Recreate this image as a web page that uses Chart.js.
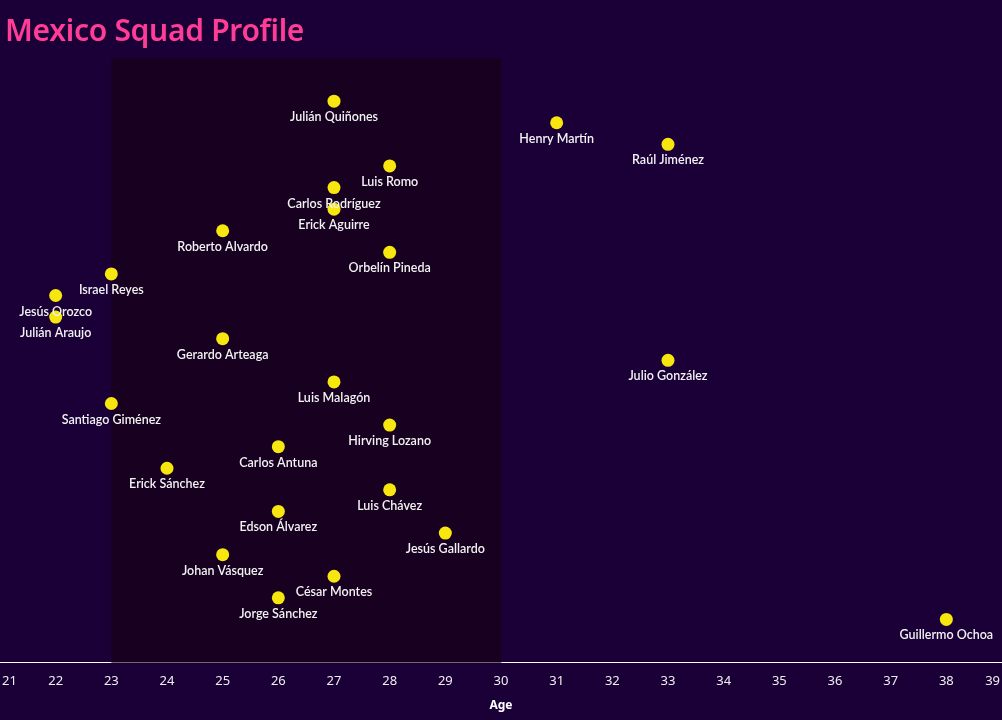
<!DOCTYPE html>
<html>
<head>
<meta charset="utf-8">
<script src="https://cdn.jsdelivr.net/npm/chart.js@4.4.1/dist/chart.umd.min.js"></script>
<style>
  html, body { margin: 0; padding: 0; background: #1b0038; }
  #wrap { position: relative; width: 1002px; height: 720px; }
  #title {
    position: absolute; left: 5px; top: 9px;
    font: 600 30px "Noto Sans", sans-serif; color: #ff3d96; letter-spacing: -0.3px;
  }
  canvas { display: block; }
</style>
</head>
<body>
<div id="wrap">
  <div id="title">Mexico Squad Profile</div>
  <canvas id="squad" width="1002" height="720"></canvas>
</div>
<script>
// players listed top to bottom, with their ages
const players = [
  'Julián Quiñones', 'Henry Martín', 'Raúl Jiménez', 'Luis Romo', 'Carlos Rodríguez',
  'Erick Aguirre', 'Roberto Alvardo', 'Orbelín Pineda', 'Israel Reyes', 'Jesús Orozco',
  'Julián Araujo', 'Gerardo Arteaga', 'Julio González', 'Luis Malagón', 'Santiago Giménez',
  'Hirving Lozano', 'Carlos Antuna', 'Erick Sánchez', 'Luis Chávez', 'Edson Álvarez',
  'Jesús Gallardo', 'Johan Vásquez', 'César Montes', 'Jorge Sánchez', 'Guillermo Ochoa'
];
const ages = [27, 31, 33, 28, 27, 27, 25, 28, 23, 22, 22, 25, 33, 27, 23, 28, 26, 24, 28, 26, 29, 25, 27, 26, 38];
const ageTicks = [21, 22, 23, 24, 25, 26, 27, 28, 29, 30, 31, 32, 33, 34, 35, 36, 37, 38, 39];
const peakAge = [23, 30];

const points = players.map((name, i) => ({ x: ages[i], y: i, name: name }));

// darker band for the peak age window
const bandPlugin = {
  id: 'band',
  beforeDatasetsDraw(chart) {
    const { ctx, chartArea, scales } = chart;
    const x0 = scales.x.getPixelForValue(peakAge[0]);
    const x1 = scales.x.getPixelForValue(peakAge[1]);
    ctx.save();
    ctx.fillStyle = '#170020';
    ctx.fillRect(x0, chartArea.top, x1 - x0, chartArea.bottom - chartArea.top);
    ctx.restore();
  }
};

// names under dots + age tick labels kept inside the canvas
const labelPlugin = {
  id: 'labels',
  afterDatasetsDraw(chart) {
    const { ctx } = chart;
    const meta = chart.getDatasetMeta(0);
    ctx.save();
    ctx.font = '600 12.5px Lato, sans-serif';
    ctx.fillStyle = '#f2f2f2';
    ctx.textAlign = 'center';
    ctx.textBaseline = 'middle';
    meta.data.forEach((el, i) => {
      ctx.fillText(points[i].name, el.x, el.y + 16);
    });
    const xs = chart.scales.x;
    ctx.font = '13px "Noto Sans", sans-serif';
    ctx.fillStyle = '#eeeeee';
    ageTicks.forEach(t => {
      const w = ctx.measureText(String(t)).width;
      let px = xs.getPixelForValue(t);
      px = Math.max(2 + w / 2, Math.min(chart.width - 2 - w / 2, px));
      ctx.fillText(String(t), px, xs.top + 19);
    });
    ctx.restore();
  }
};

new Chart(document.getElementById('squad'), {
  type: 'scatter',
  data: {
    datasets: [{
      data: points,
      backgroundColor: '#f7e70f',
      borderWidth: 0,
      pointRadius: 6.5,
      pointHoverRadius: 6.5
    }]
  },
  options: {
    responsive: false,
    animation: false,
    layout: { autoPadding: false, padding: { top: 58, left: 0, right: 0, bottom: 0 } },
    plugins: { legend: { display: false }, tooltip: { enabled: false } },
    scales: {
      x: {
        type: 'linear',
        min: 21,
        max: 39,
        grid: { display: false },
        border: { color: '#ffffff', width: 1 },
        ticks: { display: false },
        title: {
          display: true,
          text: 'Age',
          color: '#ffffff',
          font: { family: 'Noto Sans', size: 12, weight: 'bold' },
          padding: { top: 28, bottom: 7 }
        },
        afterFit(scale) { scale.paddingLeft = 0; scale.paddingRight = 0; }
      },
      y: {
        type: 'linear',
        reverse: true,
        min: -2,
        max: 26,
        display: false
      }
    }
  },
  plugins: [bandPlugin, labelPlugin]
});
</script>
</body>
</html>
